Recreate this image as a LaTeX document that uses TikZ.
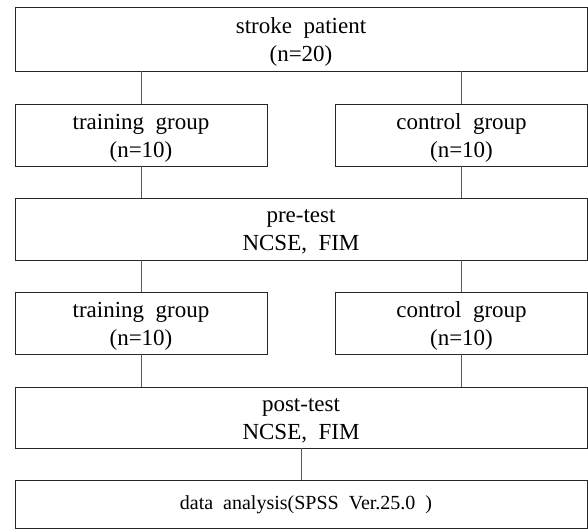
\documentclass[tikz,border=0pt]{standalone}
\usepackage{fontspec}
\setmainfont{Liberation Serif}
\begin{document}
\begin{tikzpicture}[x=1pt,y=-1pt,
  box/.style={draw=black!85, line width=0.9pt, inner sep=0pt, outer sep=0pt},
  wide/.style={box, minimum width=572pt},
  half/.style={box, minimum width=252pt},
  txt/.style={align=center, inner sep=0pt, font=\fontsize{23}{28}\selectfont},
  conn/.style={draw=black!65, line width=0.9pt}]
\useasboundingbox (0,0) rectangle (588,529);
% boxes
\node[wide, minimum height=64pt] (top) at (301,39) {};
\node[half, minimum height=62pt] (t1) at (141,135) {};
\node[half, minimum height=62pt] (c1) at (461.5,135) {};
\node[wide, minimum height=62pt] (pre) at (301,229) {};
\node[half, minimum height=62pt] (t2) at (141,323) {};
\node[half, minimum height=62pt] (c2) at (461.5,323) {};
\node[wide, minimum height=61pt] (post) at (301,417.5) {};
\node[wide, minimum height=48pt] (data) at (301,504) {};
% texts
\node[txt] (topT) at ([yshift=-3pt]top.center) {stroke\ \ patient\\(n=20)};
\node[txt] (t1T) at ([yshift=-3pt]t1.center) {training\ \ group\\(n=10)};
\node[txt] (c1T) at ([yshift=-3pt]c1.center) {control\ \ group\\(n=10)};
\node[txt] (preT) at ([yshift=-3pt]pre.center) {pre-test\\NCSE,\ \ FIM};
\node[txt] (t2T) at ([yshift=-3pt]t2.center) {training\ \ group\\(n=10)};
\node[txt] (c2T) at ([yshift=-3pt]c2.center) {control\ \ group\\(n=10)};
\node[txt] (postT) at ([yshift=-3pt]post.center) {post-test\\NCSE,\ \ FIM};
\node[txt, font=\fontsize{20}{24}\selectfont] (dataT) at ([xshift=5pt,yshift=-1pt]data.center) {data\ \ analysis(SPSS\ \ Ver.25.0\ \ )};
% connectors
\draw[conn] (t1.north) -- (t1.north |- top.south);
\draw[conn] (c1.north) -- (c1.north |- top.south);
\draw[conn] (t1.south) -- (t1.south |- pre.north);
\draw[conn] (c1.south) -- (c1.south |- pre.north);
\draw[conn] (t2.north) -- (t2.north |- pre.south);
\draw[conn] (c2.north) -- (c2.north |- pre.south);
\draw[conn] (t2.south) -- (t2.south |- post.north);
\draw[conn] (c2.south) -- (c2.south |- post.north);
\draw[conn] (post.south) -- (data.north);
\end{tikzpicture}
\end{document}
